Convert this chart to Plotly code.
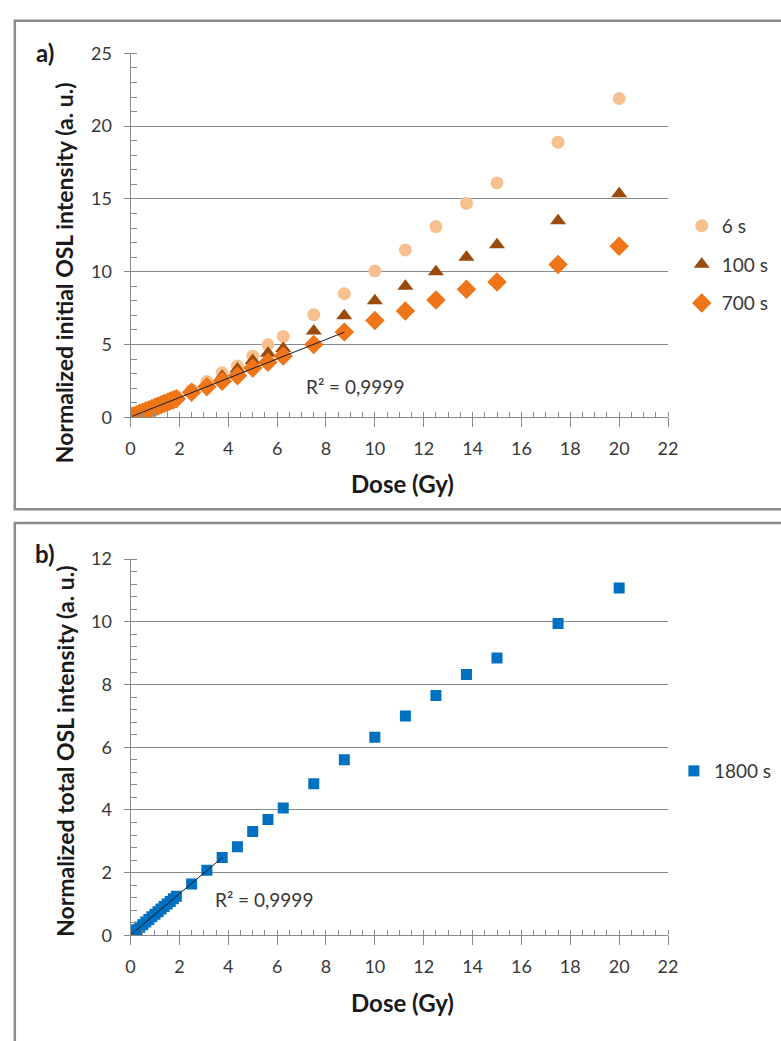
import numpy as np
import plotly.graph_objects as go

# ---------------- data ----------------
dose = [0.0625, 0.125, 0.25, 0.375, 0.5, 0.625, 0.75, 0.875, 1.0, 1.125, 1.25, 1.375,
        1.5, 1.625, 1.75, 1.875, 2.5, 3.125, 3.75, 4.375, 5.0, 5.625, 6.25, 7.5, 8.75,
        10.0, 11.25, 12.5, 13.75, 15.0, 17.5, 20.0]

osl_6s = [0.07, 0.11, 0.20, 0.30, 0.39, 0.49, 0.58, 0.68, 0.77, 0.87, 0.96, 1.06,
          1.15, 1.25, 1.34, 1.44, 1.87, 2.45, 3.05, 3.52, 4.20, 4.98, 5.55, 7.05, 8.49,
          10.05, 11.5, 13.1, 14.7, 16.1, 18.9, 21.9]
osl_100s = [0.06, 0.10, 0.19, 0.28, 0.37, 0.46, 0.55, 0.64, 0.73, 0.81, 0.90, 0.99,
            1.08, 1.17, 1.26, 1.35, 1.78, 2.25, 2.82, 3.31, 3.90, 4.39, 4.73, 5.92, 6.98,
            8.0, 9.0, 10.0, 11.0, 11.85, 13.5, 15.35]
osl_700s = [0.06, 0.10, 0.18, 0.27, 0.35, 0.44, 0.52, 0.61, 0.69, 0.77, 0.86, 0.94,
            1.02, 1.11, 1.19, 1.28, 1.72, 2.09, 2.48, 2.85, 3.38, 3.78, 4.21, 5.0, 5.85,
            6.65, 7.3, 8.05, 8.8, 9.3, 10.5, 11.75]
osl_1800s = [0.06, 0.10, 0.18, 0.26, 0.34, 0.43, 0.51, 0.59, 0.67, 0.75, 0.84, 0.92,
             1.00, 1.08, 1.17, 1.25, 1.64, 2.08, 2.48, 2.83, 3.31, 3.70, 4.06, 4.84, 5.60,
             6.32, 7.0, 7.65, 8.32, 8.85, 9.95, 11.08]

fit_max_a = 8.75   # linear fit range of the 700 s series
fit_max_b = 3.75   # linear fit range of the 1800 s series
r2_label = "R\u00b2 = 0,9999"

# ---------------- styles ----------------
W, H = 781, 1041
FONT = "Lato, Carlito, Calibri, sans-serif"
GRID = "#8a8a8a"
TXT = "#383838"
TICKF = 18
TITLEF = 23

def px_x(p):
    return p / W

def px_y(p):
    return 1 - p / H

fig = go.Figure()

def fit_line(xs, ys, xmax):
    x = np.array(xs)
    y = np.array(ys)
    m = x <= xmax
    k, b = np.polyfit(x[m], y[m], 1)
    xx = np.array([x[m].min(), x[m].max()])
    return xx, k * xx + b

# panel a
fig.add_trace(go.Scatter(x=dose, y=osl_6s, mode="markers", name="6 s",
                         marker=dict(symbol="circle", size=13, color="#F9C08F"),
                         xaxis="x", yaxis="y", legend="legend", legendgroup="a1"))
fig.add_trace(go.Scatter(x=dose, y=osl_100s, mode="markers", name="100 s",
                         marker=dict(symbol="triangle-up", size=14, color="#9A4A0A"),
                         xaxis="x", yaxis="y", legend="legend", legendgroup="a2"))
fig.add_trace(go.Scatter(x=dose, y=osl_700s, mode="markers", name="700 s",
                         marker=dict(symbol="diamond", size=15, color="#EE7518"),
                         xaxis="x", yaxis="y", legend="legend", legendgroup="a3"))
fx, fy = fit_line(dose, osl_700s, fit_max_a)
fig.add_trace(go.Scatter(x=fx, y=fy, mode="lines", line=dict(color="#1a1a1a", width=1),
                         showlegend=False, xaxis="x", yaxis="y", hoverinfo="skip"))

# panel b
fig.add_trace(go.Scatter(x=dose, y=osl_1800s, mode="markers", name="1800 s",
                         marker=dict(symbol="square", size=11, color="#0070C0"),
                         xaxis="x2", yaxis="y2", legend="legend2"))
fx, fy = fit_line(dose, osl_1800s, fit_max_b)
fig.add_trace(go.Scatter(x=fx, y=fy, mode="lines", line=dict(color="#1a1a1a", width=1),
                         showlegend=False, xaxis="x2", yaxis="y2", hoverinfo="skip"))

def xax(anchor):
    return dict(domain=[px_x(128), px_x(676)], anchor=anchor, range=[0, 22], dtick=2,
                showgrid=False, zeroline=False, showline=True, linecolor=GRID, linewidth=1,
                ticks="outside", ticklen=9, tickcolor=GRID, tickwidth=1,
                ticklabelstandoff=6,
                minor=dict(dtick=0.5, ticks="inside", ticklen=5, tickcolor=GRID, showgrid=False),
                tickfont=dict(family=FONT, size=TICKF, color=TXT), fixedrange=True)

def yax(anchor, dom, rng, dt, mdt):
    return dict(domain=dom, anchor=anchor, range=rng, dtick=dt,
                showgrid=True, gridcolor=GRID, gridwidth=1, zeroline=False,
                showline=True, linecolor=GRID, linewidth=1,
                ticks="outside", ticklen=6, tickcolor=GRID, tickwidth=1,
                ticklabelstandoff=8,
                minor=dict(dtick=mdt, ticks="inside", ticklen=6, tickcolor=GRID, showgrid=False),
                tickfont=dict(family=FONT, size=TICKF, color=TXT), fixedrange=True)

fig.update_layout(
    width=W, height=H, autosize=False,
    margin=dict(l=0, r=0, t=0, b=0),
    paper_bgcolor="white", plot_bgcolor="white",
    font=dict(family=FONT, color=TXT),
    xaxis=xax("y"),
    yaxis=yax("x", [px_y(414), px_y(42.3)], [0, 25], 5, 1),
    xaxis2=xax("y2"),
    yaxis2=yax("x2", [px_y(943.3), px_y(559)], [0, 12], 2, 0.4),
    legend=dict(x=px_x(690), y=px_y(199), xanchor="left", yanchor="top",
                bgcolor="rgba(0,0,0,0)", font=dict(family=FONT, size=19, color=TXT),
                traceorder="grouped", tracegroupgap=11, itemwidth=30),
    legend2=dict(x=px_x(682), y=px_y(756), xanchor="left", yanchor="top",
                 bgcolor="rgba(0,0,0,0)", font=dict(family=FONT, size=19, color=TXT),
                 itemwidth=30),
    showlegend=True,
)

# panel borders
fig.add_shape(type="rect", xref="paper", yref="paper", x0=px_x(10), x1=1.05,
              y0=px_y(508), y1=px_y(9), line=dict(color="#8c8c8c", width=2.5))
fig.add_shape(type="rect", xref="paper", yref="paper", x0=px_x(10), x1=1.05,
              y0=-0.05, y1=px_y(522), line=dict(color="#8c8c8c", width=2.5))

def pann(text, x, y, size, color="#1a1a1a", angle=0):
    return dict(text=text, x=px_x(x), y=px_y(y), xref="paper", yref="paper",
                xanchor="center", yanchor="middle", textangle=angle, showarrow=False,
                font=dict(family=FONT, size=size, color=color))

ann = [
    pann("<b>a)</b>", 41, 41, 24),
    pann("<b>b)</b>", 41, 553, 24),
    pann("<b>Normalized initial OSL intensity (a. u.)</b>", 61, 266, TITLEF, angle=-90),
    pann("<b>Normalized total OSL intensity (a. u.)</b>", 61, 755, TITLEF, angle=-90),
    pann("<b>Dose (Gy)</b>", 405, 482, 24),
    pann("<b>Dose (Gy)</b>", 405, 1012, 24),
    dict(text=r2_label, x=7.1, y=2.14, xref="x", yref="y", xanchor="left", yanchor="middle",
         showarrow=False, font=dict(family=FONT, size=19, color=TXT)),
    dict(text=r2_label, x=3.38, y=1.15, xref="x2", yref="y2", xanchor="left", yanchor="middle",
         showarrow=False, font=dict(family=FONT, size=19, color=TXT)),
]
fig.update_layout(annotations=ann)

fig.write_html("out.html",
               config={"displayModeBar": False, "staticPlot": True},
               post_script="document.body.style.margin='0';document.body.style.overflow='hidden';")
